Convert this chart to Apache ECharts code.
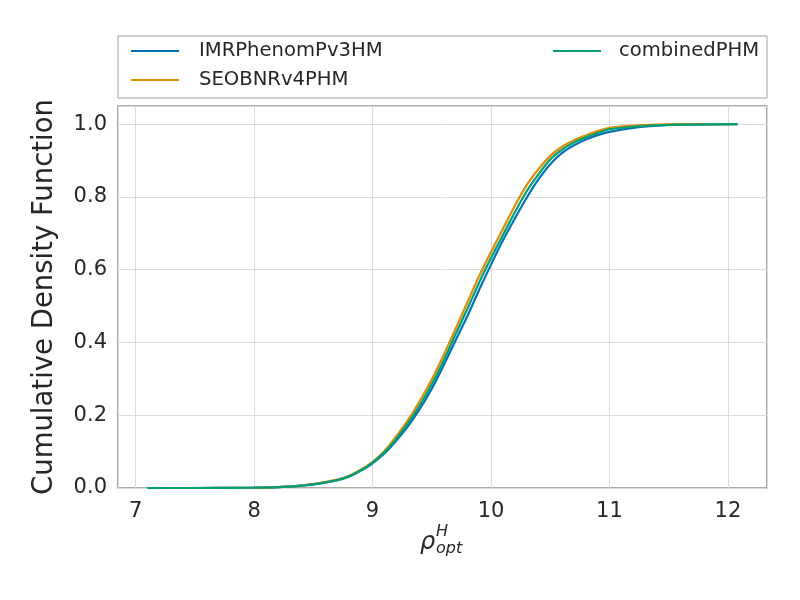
<!DOCTYPE html>
<html>
<head>
<meta charset="utf-8">
<script src="https://cdn.jsdelivr.net/npm/echarts@6/dist/echarts.min.js"></script>
<style>html,body{margin:0;padding:0;background:#fff}#c{width:800px;height:600px}</style>
</head>
<body>
<div id="c"></div>
<script>
const seriesNames = ['IMRPhenomPv3HM', 'SEOBNRv4PHM', 'combinedPHM'];
const xIMR = [7.1, 7.5, 8.0, 8.3, 8.5, 8.7, 8.8, 8.9, 9.0, 9.1, 9.2, 9.3, 9.4, 9.5, 9.6, 9.7, 9.8, 9.9, 10.0, 10.1, 10.2, 10.3, 10.4, 10.5, 10.6, 10.7, 10.8, 10.9, 11.0, 11.2, 11.4, 11.6, 12.08];
const yIMR = [0.0, 0.0, 0.001, 0.004, 0.010, 0.021, 0.031, 0.047, 0.068, 0.095, 0.130, 0.170, 0.218, 0.273, 0.337, 0.405, 0.472, 0.545, 0.614, 0.680, 0.740, 0.797, 0.848, 0.890, 0.921, 0.942, 0.958, 0.970, 0.979, 0.990, 0.996, 0.999, 1.0];
const xSEOB = [7.1, 7.5, 8.0, 8.3, 8.5, 8.7, 8.8, 8.9, 9.0, 9.1, 9.2, 9.3, 9.4, 9.5, 9.6, 9.7, 9.8, 9.9, 10.0, 10.1, 10.2, 10.3, 10.4, 10.5, 10.6, 10.7, 10.8, 10.9, 11.0, 11.2, 11.4, 11.6, 12.08];
const ySEOB = [0.0, 0.0, 0.001, 0.004, 0.011, 0.023, 0.033, 0.050, 0.072, 0.102, 0.142, 0.187, 0.240, 0.298, 0.365, 0.437, 0.510, 0.583, 0.649, 0.712, 0.775, 0.832, 0.876, 0.913, 0.938, 0.956, 0.969, 0.981, 0.990, 0.996, 0.999, 1.0, 1.0];
const xComb = [7.1, 7.5, 8.0, 8.3, 8.5, 8.7, 8.8, 8.9, 9.0, 9.1, 9.2, 9.3, 9.4, 9.5, 9.6, 9.7, 9.8, 9.9, 10.0, 10.1, 10.2, 10.3, 10.4, 10.5, 10.6, 10.7, 10.8, 10.9, 11.0, 11.2, 11.4, 11.6, 12.08];
const yComb = [0.0, 0.0, 0.001, 0.004, 0.010, 0.022, 0.032, 0.048, 0.070, 0.098, 0.135, 0.178, 0.228, 0.285, 0.350, 0.422, 0.492, 0.565, 0.632, 0.695, 0.757, 0.815, 0.862, 0.903, 0.930, 0.950, 0.964, 0.976, 0.986, 0.993, 0.997, 0.999, 1.0];
const colors = ['#0173b2', '#de8f05', '#029e73'];

function pairs(xs, ys) { return xs.map((x, i) => [x, ys[i]]); }

const chart = echarts.init(document.getElementById('c'), null, {renderer: 'canvas'});
const font = 'DejaVu Sans';
const mkSeries = (name, xs, ys, c) => ({
  name: name, type: 'line', data: pairs(xs, ys), showSymbol: false, symbol: 'none', smooth: 0.2,
  lineStyle: {color: c, width: 2.2}, itemStyle: {color: c}, animation: false
});
chart.setOption({
  backgroundColor: '#fff',
  animation: false,
  grid: {left: 118, right: 33, top: 106, bottom: 112, show: true, borderColor: '#8c8c8c', borderWidth: 1.5, backgroundColor: '#fff'},
  xAxis: {
    type: 'value', min: 6.851, max: 12.33, splitNumber: 5,
    axisLine: {show: false}, axisTick: {show: false},
    axisLabel: {fontFamily: font, fontSize: 21, color: '#262626', margin: 13, showMinLabel: false, showMaxLabel: false},
    splitLine: {show: true, lineStyle: {color: '#dcdcdc', width: 1}}
  },
  yAxis: {
    type: 'value', min: 0, max: 1.05, splitNumber: 5,
    axisLine: {show: false}, axisTick: {show: false},
    axisLabel: {fontFamily: font, fontSize: 21, color: '#262626', margin: 11, showMaxLabel: false,
      formatter: v => v.toFixed(1)},
    splitLine: {show: true, lineStyle: {color: '#dcdcdc', width: 1}},
    name: 'Cumulative Density Function', nameLocation: 'middle', nameGap: 59,
    nameTextStyle: {fontFamily: font, fontSize: 27.5, color: '#262626'}
  },
  legend: [
    {data: [seriesNames[0], seriesNames[1]], orient: 'vertical', left: 126, top: 35,
      icon: 'rect', itemWidth: 48, itemHeight: 2.2, itemGap: 7,
      textStyle: {fontFamily: font, fontSize: 19.6, color: '#262626', lineHeight: 22, padding: [0, 0, 0, 15]}},
    {data: [seriesNames[2]], orient: 'vertical', left: 548, top: 35,
      icon: 'rect', itemWidth: 48, itemHeight: 2.2, itemGap: 7,
      textStyle: {fontFamily: font, fontSize: 19.6, color: '#262626', lineHeight: 22, padding: [0, 0, 0, 13]}}
  ],
  graphic: [
    {type: 'rect', shape: {x: 118, y: 36, width: 649, height: 62}, style: {fill: 'none', stroke: '#a0a0a0', lineWidth: 1}, z: -1},
    {type: 'text', left: 420, top: 531, style: {text: 'ρ', font: 'italic 24px "DejaVu Sans"', fill: '#262626'}},
    {type: 'text', left: 436, top: 524, style: {text: 'H', font: 'italic 16px "DejaVu Sans"', fill: '#262626'}},
    {type: 'text', left: 436, top: 541, style: {text: 'opt', font: 'italic 16px "DejaVu Sans"', fill: '#262626'}}
  ],
  series: [
    mkSeries(seriesNames[0], xIMR, yIMR, colors[0]),
    mkSeries(seriesNames[1], xSEOB, ySEOB, colors[1]),
    mkSeries(seriesNames[2], xComb, yComb, colors[2])
  ]
});
</script>
</body>
</html>
